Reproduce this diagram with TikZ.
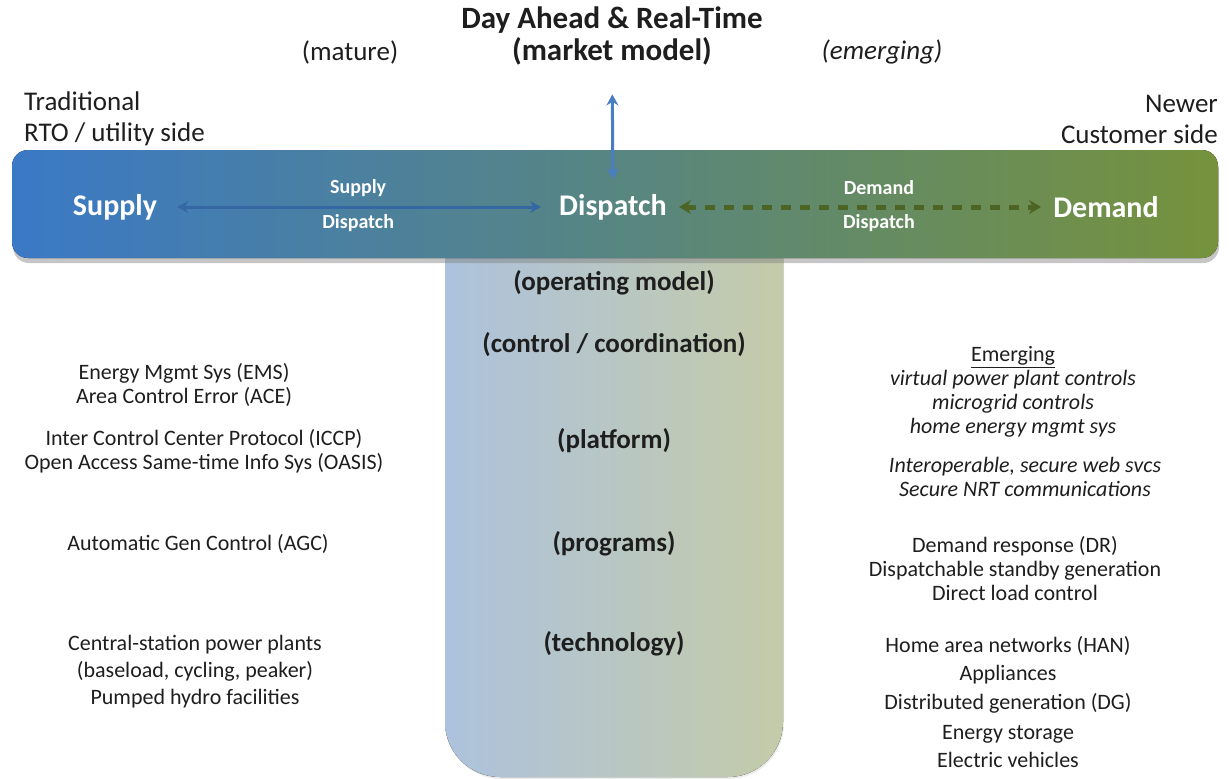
\documentclass[tikz,border=0pt]{standalone}
\usepackage{fontspec}
\setmainfont{Carlito}
\usetikzlibrary{arrows.meta,shadows}
\definecolor{barblue}{HTML}{3A79C6}
\definecolor{bargreen}{HTML}{76923C}
\definecolor{colblue}{HTML}{ADC2DD}
\definecolor{colgreen}{HTML}{C4CBA9}
\definecolor{linkblue}{HTML}{4A7EC4}
\definecolor{bardark}{HTML}{3567A3}
\definecolor{linkgreen}{HTML}{4C6524}
\definecolor{ink}{HTML}{1E1E1E}
\tikzset{
  side/.style={align=center, text=ink, inner sep=0pt, font=\fontsize{22}{24}\selectfont},
  sidehead/.style={text=ink, inner sep=0pt, font=\fontsize{27}{31}\selectfont},
  level/.style={text=ink, inner sep=0pt, font=\bfseries\fontsize{27}{30}\selectfont},
  bartext/.style={text=white, inner sep=4pt, font=\bfseries\fontsize{30}{32}\selectfont},
  linktext/.style={text=white, inner sep=0pt, font=\bfseries\fontsize{20}{22}\selectfont},
}
\begin{document}
\begin{tikzpicture}[x=1pt,y=-1pt]
  \useasboundingbox (0,0) rectangle (1229,779);
  \fill[left color=colblue, right color=colgreen, rounded corners=55pt,
    drop shadow={opacity=0.15, shadow xshift=1pt, shadow yshift=-2pt}]
    (445,150) rectangle (783,777);
  \fill[left color=barblue, right color=bargreen, rounded corners=16pt,
    drop shadow={opacity=0.45, shadow xshift=1pt, shadow yshift=-5pt}]
    (12,150) rectangle (1218,258);
  \draw
    (612,36) node[sidehead, font=\bfseries\fontsize{31}{32}\selectfont, align=center] (market)
      {Day Ahead \& Real-Time\\(market model)}
    (350,52) node[sidehead] (mature) {(mature)}
    (882,52) node[sidehead, font=\itshape\fontsize{27}{31}\selectfont] (emerging) {(emerging)}
    (24,119) node[sidehead, align=left, anchor=west] (utility) {Traditional\\RTO / utility side}
    (1218,119) node[sidehead, align=right, anchor=east] (customer) {Newer\\Customer side}
    (115,207) node[bartext] (supply) {Supply}
    (613,207) node[bartext] (dispatch) {Dispatch}
    (1106,207) node[bartext] (demand) {Demand}
    (614,283) node[level] (operating) {(operating model)}
    (614,345) node[level] (control) {(control / coordination)}
    (614,441) node[level] (platform) {(platform)}
    (614,544) node[level] (programs) {(programs)}
    (614,644) node[level] (technology) {(technology)}
    (184,385) node[side] (ems) {Energy Mgmt Sys (EMS)\\Area Control Error (ACE)}
    (204,451) node[side] (iccp) {Inter Control Center Protocol (ICCP)\\Open Access Same-time Info Sys (OASIS)}
    (198,544) node[side] (agc) {Automatic Gen Control (AGC)}
    (195,672) node[side] (plants) {Central-station power plants\\[3pt](baseload, cycling, peaker)\\[3pt]Pumped hydro facilities}
    (1013,392) node[side] (vpp) {\underline{Emerging}\\\itshape virtual power plant controls\\\itshape microgrid controls\\\itshape home energy mgmt sys}
    (1025,477) node[side, font=\itshape\fontsize{22}{24}\selectfont] (websvc) {Interoperable, secure web svcs\\Secure NRT communications}
    (1015,569) node[side] (dr) {Demand response (DR)\\Dispatchable standby generation\\Direct load control}
    (1008,702) node[side] (han) {Home area networks (HAN)\\[4pt]Appliances\\[5pt]Distributed generation (DG)\\[6pt]Energy storage\\[4pt]Electric vehicles};
  \begin{scope}[line width=3pt]
    \draw[linkblue, {Stealth[length=11pt,width=12pt]}-{Stealth[length=11pt,width=12pt]},
      shorten <=29pt, shorten >=11pt] (market) -- (dispatch);
    \draw[bardark, {Stealth[length=11pt,width=12pt]}-{Stealth[length=11pt,width=12pt]},
      shorten <=16pt, shorten >=14pt] (supply) -- node[linktext, yshift=19pt] (sdtop) {Supply}
      node[linktext, yshift=-16pt] (sdbot) {Dispatch} (dispatch);
    \draw[linkgreen, line width=5pt, dash pattern=on 10pt off 9pt,
      {Stealth[length=12pt,width=14pt]}-{Stealth[length=12pt,width=14pt]},
      shorten <=8pt, shorten >=8pt] (dispatch) -- node[linktext, pos=0.55, yshift=19pt] (ddtop) {Demand}
      node[linktext, pos=0.55, yshift=-16pt] (ddbot) {Dispatch} (demand);
  \end{scope}
\end{tikzpicture}
\end{document}
